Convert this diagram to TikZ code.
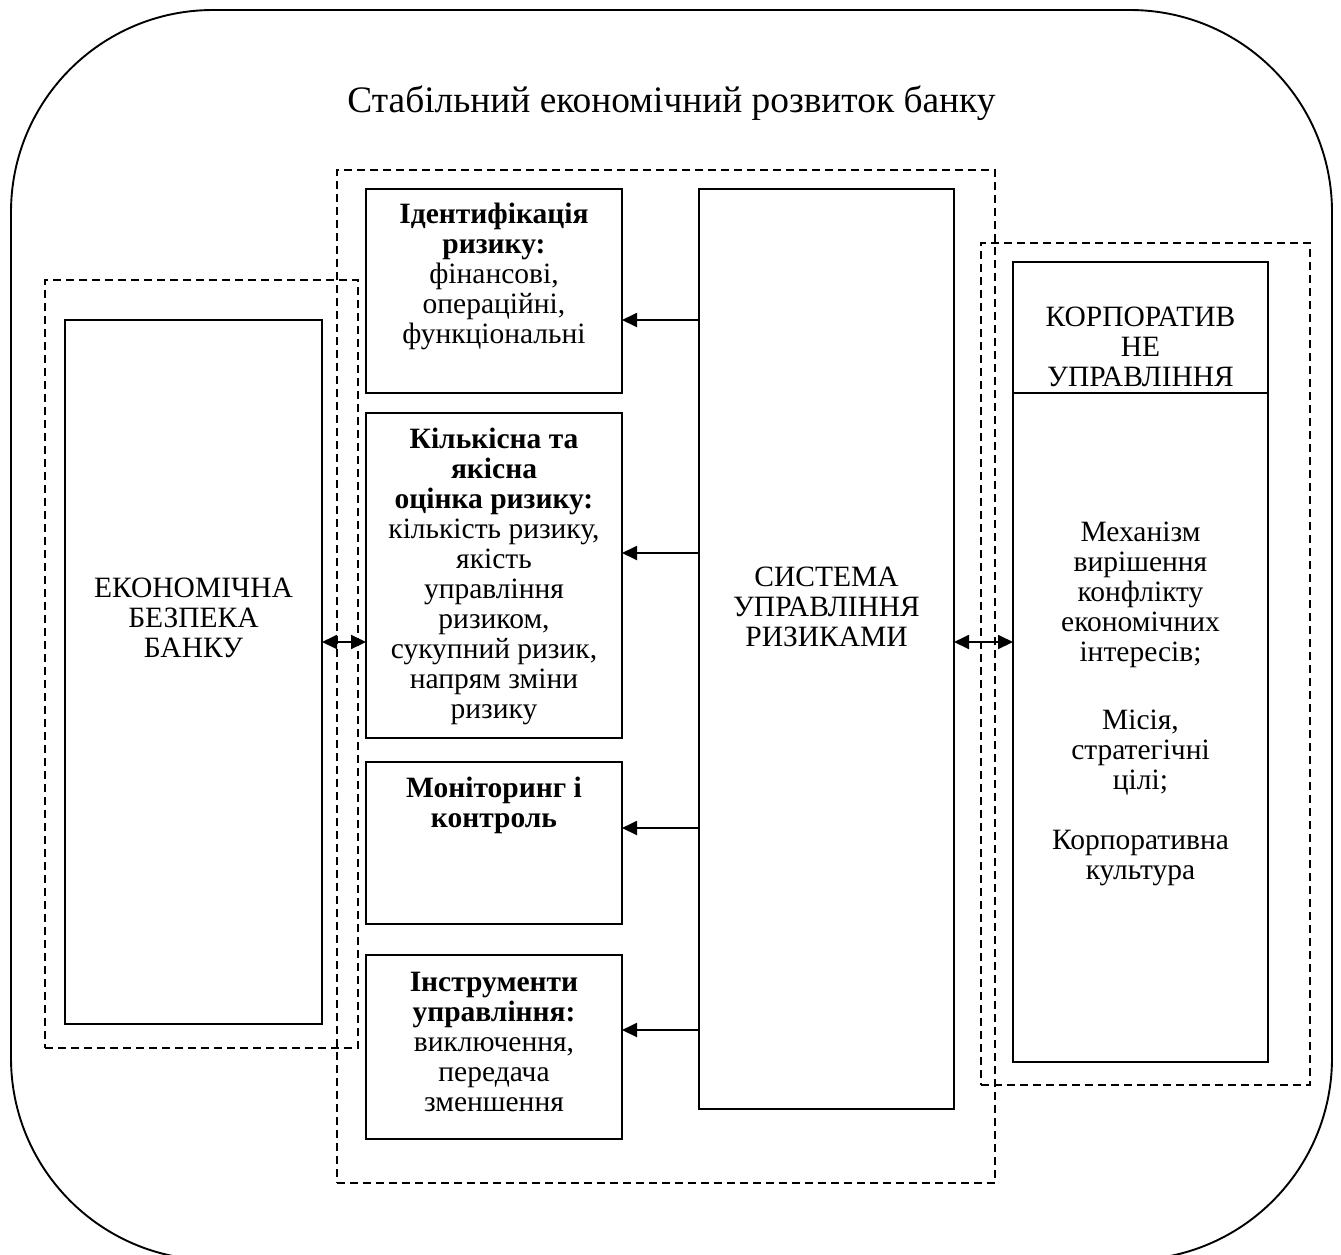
\documentclass[tikz,border=0pt]{standalone}
\usepackage{fontspec}
\setmainfont{Liberation Serif}
\usetikzlibrary{arrows.meta}
\begin{document}
\begin{tikzpicture}[x=1pt,y=-1pt,
  solidbox/.style={draw, line width=1.9pt, inner sep=0pt, outer sep=0pt, anchor=north west},
  dashbox/.style={draw, line width=1.9pt, dash pattern=on 8pt off 5pt, inner sep=0pt, outer sep=0pt, anchor=north west},
  txt/.style={align=center, inner sep=0pt, font=\fontsize{29.5}{30}\selectfont},
  arr/.style={line width=1.9pt, -{Triangle[length=15pt,width=14pt]}},
  darr/.style={line width=1.9pt, {Triangle[length=15pt,width=14pt]}-{Triangle[length=15pt,width=14pt]}}]
\useasboundingbox (0,0) rectangle (1341,1254);
\node[draw, line width=1.9pt, rounded corners=202pt, minimum width=1321pt, minimum height=1250pt, anchor=north west, inner sep=0pt, outer sep=0pt] (outer) at (11,10) {};
\node[font=\fontsize{37.4}{42}\selectfont, anchor=base, inner sep=0pt] (title) at (671.5,112) {Стабільний економічний розвиток банку};
% dashed groups
\node[dashbox, minimum width=658pt, minimum height=1013pt] (cd) at (337,170) {};
\node[dashbox, minimum width=313pt, minimum height=768pt] (ld) at (45,280) {};
\node[dashbox, minimum width=329pt, minimum height=842pt] (rd) at (981,243) {};
% solid boxes
\node[solidbox, minimum width=257pt, minimum height=704pt] (ek) at (65,320) {};
\node[solidbox, minimum width=256pt, minimum height=204pt] (b1) at (366,189) {};
\node[solidbox, minimum width=256pt, minimum height=325pt] (b2) at (366,413) {};
\node[solidbox, minimum width=256pt, minimum height=162pt] (b3) at (366,762) {};
\node[solidbox, minimum width=256pt, minimum height=184pt] (b4) at (366,955) {};
\node[solidbox, minimum width=255pt, minimum height=920pt] (big) at (699,189) {};
\node[solidbox, minimum width=255pt, minimum height=800pt] (kor) at (1013,262) {};
\coordinate (kdiv) at (0,393);
\draw[line width=1.9pt] (kor.west |- kdiv) -- (kor.east |- kdiv);
% texts
\node[txt, anchor=north] (t1) at (494,203) {\textbf{Ідентифікація}\\ \textbf{ризику:}\\ фінансові,\\ операційні,\\ функціональні};
\node[txt, anchor=north] (t2) at (494,428) {\textbf{Кількісна та}\\ \textbf{якісна}\\ \textbf{оцінка ризику:}\\ кількість ризику,\\ якість\\ управління\\ ризиком,\\ сукупний ризик,\\ напрям зміни\\ ризику};
\node[txt, anchor=north] (t3) at (494,777) {\textbf{Моніторинг і}\\ \textbf{контроль}};
\node[txt, anchor=north] (t4) at (494,972) {\textbf{Інструменти}\\ \textbf{управління:}\\ виключення,\\ передача\\ зменшення};
\node[txt] (bigt) at (826.5,607) {СИСТЕМА\\ УПРАВЛІННЯ\\ РИЗИКАМИ};
\node[txt] (ekt) at (193.5,618) {ЕКОНОМІЧНА\\ БЕЗПЕКА\\ БАНКУ};
\node[txt] (kort) at (1140.5,347) {КОРПОРАТИВ\\ НЕ\\ УПРАВЛІННЯ};
\node[txt, anchor=north] (kort2) at (1140.5,521.5) {Механізм\\ вирішення\\ конфлікту\\ економічних\\ інтересів;\\[38pt] Місія,\\ стратегічні\\ цілі;\\[30pt] Корпоративна\\ культура};
% arrows
\coordinate (y1) at (0,320);
\coordinate (y2) at (0,553);
\coordinate (y3) at (0,828);
\coordinate (y4) at (0,1030);
\coordinate (ym) at (0,642);
\draw[arr] (big.west |- y1) -- (b1.east |- y1);
\draw[arr] (big.west |- y2) -- (b2.east |- y2);
\draw[arr] (big.west |- y3) -- (b3.east |- y3);
\draw[arr] (big.west |- y4) -- (b4.east |- y4);
\draw[darr] (ek.east |- ym) -- (b2.west |- ym);
\draw[darr] (big.east |- ym) -- (kor.west |- ym);
\end{tikzpicture}
\end{document}
